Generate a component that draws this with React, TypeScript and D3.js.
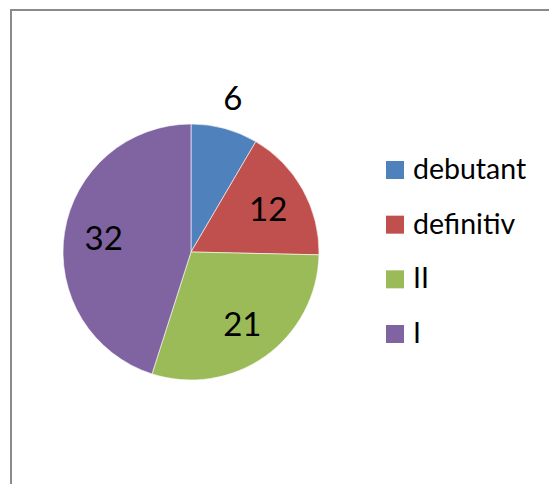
import * as d3 from "d3";
import { useEffect, useRef } from "react";

// chart data
const categories = ["debutant", "definitiv", "II", "I"];
const values = [6, 12, 21, 32];
const colors = ["#4F81BD", "#C0504D", "#9BBB59", "#8064A2"];

const App = () => {
  const svgRef = useRef<SVGSVGElement>(null);

  useEffect(() => {
    const width = 549;
    const height = 484;
    const cx = 191;
    const cy = 252;
    const radius = 128;

    const svg = d3.select(svgRef.current);
    svg.selectAll("*").remove();
    svg.attr("width", width).attr("height", height);

    // chart area border (runs off the right/bottom edges)
    svg
      .append("rect")
      .attr("x", 11)
      .attr("y", 10)
      .attr("width", 600)
      .attr("height", 600)
      .attr("fill", "#fff")
      .attr("stroke", "#8a8a8a")
      .attr("stroke-width", 2);

    const data = categories.map((c, i) => ({ name: c, value: values[i], color: colors[i] }));

    const pie = d3
      .pie<any>()
      .sort(null)
      .value((d) => d.value);
    const arcs = pie(data);

    const arc = d3.arc<any>().innerRadius(0).outerRadius(radius);
    const inner = d3.arc<any>().innerRadius(radius * 0.69).outerRadius(radius * 0.69);
    const outer = d3.arc<any>().innerRadius(radius + 31).outerRadius(radius + 31);

    const g = svg.append("g").attr("transform", `translate(${cx},${cy})`);

    // slices
    g.selectAll("path")
      .data(arcs)
      .join("path")
      .attr("d", arc)
      .attr("fill", (d) => d.data.color)
      .attr("stroke", "#fff")
      .attr("stroke-width", 0.6);

    // value labels: small slices get the label outside
    g.selectAll("text")
      .data(arcs)
      .join("text")
      .attr("transform", (d) => {
        const small = d.endAngle - d.startAngle < 0.6;
        const [x, y] = (small ? outer : inner).centroid(d);
        return `translate(${x},${y})`;
      })
      .attr("text-anchor", "middle")
      .attr("dy", "0.36em")
      .style("font-family", "Lato, 'Open Sans', sans-serif")
      .style("font-size", "33px")
      .style("fill", "#000")
      .text((d) => d.data.value);

    // legend
    const legendY = d3
      .scalePoint<string>()
      .domain(categories)
      .range([161, 325]);

    const legend = svg
      .append("g")
      .selectAll("g")
      .data(data)
      .join("g")
      .attr("transform", (d) => `translate(386,${legendY(d.name)})`);

    legend
      .append("rect")
      .attr("width", 18)
      .attr("height", 18)
      .attr("fill", (d) => d.color);

    legend
      .append("text")
      .attr("x", 27)
      .attr("y", 18)
      .style("font-family", "Lato, 'Open Sans', sans-serif")
      .style("font-size", "28.5px")
      .style("fill", "#000")
      .text((d) => d.name);
  }, []);

  return (
    <svg
      ref={svgRef}
      style={{ position: "absolute", left: 0, top: 0, display: "block" }}
    ></svg>
  );
};

export default App;
